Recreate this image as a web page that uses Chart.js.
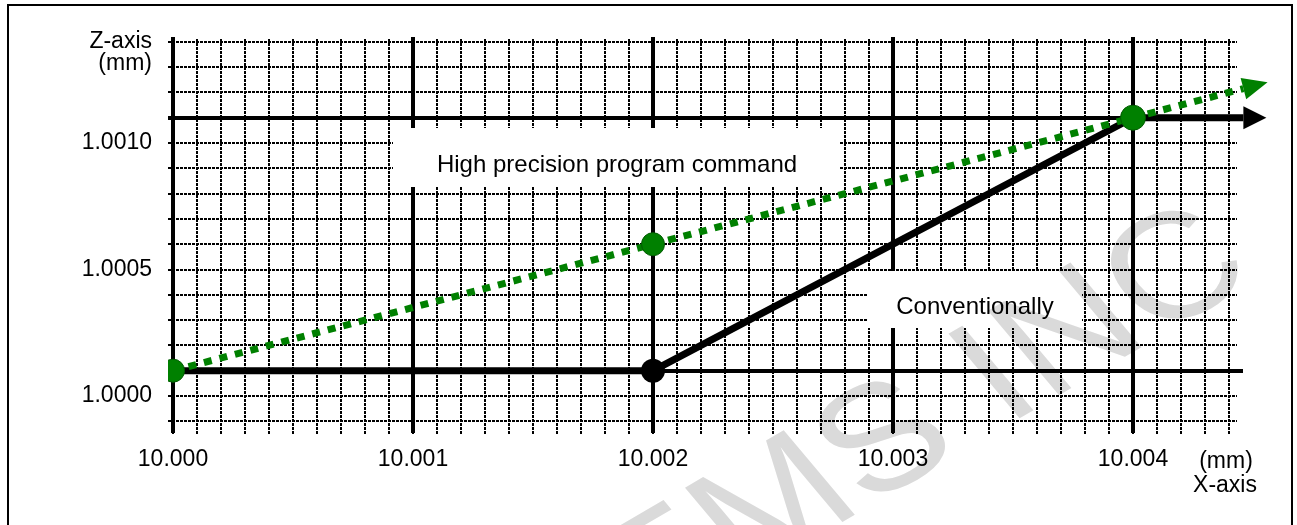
<!DOCTYPE html>
<html><head><meta charset="utf-8">
<script src="https://cdn.jsdelivr.net/npm/chart.js@4.4.1/dist/chart.umd.min.js"></script>
<style>
html,body{margin:0;padding:0;background:#fff;}
#wrap{position:relative;width:1297px;height:525px;overflow:hidden;}
#frame{position:absolute;left:7px;top:4px;width:1282px;height:600px;border:2px solid #000;}
canvas{position:absolute;left:0;top:0;}
</style></head><body>
<div id="wrap"><div id="frame"></div><canvas id="c" width="1297" height="525"></canvas></div>
<script>
// ---- data ----
const xTickValues = [10.000, 10.001, 10.002, 10.003, 10.004];
const zTickValues = [1.0000, 1.0005, 1.0010];
const xGridRange = [10.0000, 10.0044];
const zGridRange = [0.9999, 1.0014];
const gridStep = 0.0001;
const zMajorLines = [1.0001, 1.0011];
const conventionalX = [10.000, 10.002, 10.004, 10.00446];
const conventionalZ = [1.0001, 1.0001, 1.0011, 1.0011];
const highPrecisionX = [10.000, 10.002, 10.004, 10.00446];
const highPrecisionZ = [1.0001, 1.0006, 1.0011, 1.001215];
const labelHigh = 'High precision program command';
const labelConv = 'Conventionally';
const watermarkText = 'EMS INC';

const FONT = '"Liberation Sans", Arial, Helvetica, sans-serif';
const GREEN = '#008000';

const toPts = (xs, zs) => xs.map((v, i) => ({x: v, y: zs[i]}));

const gridPlugin = {
  id: 'gridPaper',
  beforeDatasetsDraw(chart) {
    const {ctx, scales: {x, y}} = chart;
    const px = v => Math.round(x.getPixelForValue(v));
    const py = v => Math.round(y.getPixelForValue(v));
    const left = px(xGridRange[0]) - 5, right = px(xGridRange[1]) + 8;
    const top = py(zGridRange[1]) - 3, bottom = py(zGridRange[0]) + 14;
    const nx = Math.round((xGridRange[1] - xGridRange[0]) / gridStep);
    const nz = Math.round((zGridRange[1] - zGridRange[0]) / gridStep);
    ctx.save();
    ctx.strokeStyle = '#000';
    ctx.lineWidth = 2;
    ctx.setLineDash([3, 1]);
    ctx.beginPath();
    for (let i = 0; i <= nx; i++) {
      const X = px(xGridRange[0] + i * gridStep);
      ctx.moveTo(X, top); ctx.lineTo(X, bottom);
    }
    for (let j = 0; j <= nz; j++) {
      const Y = py(zGridRange[0] + j * gridStep);
      ctx.moveTo(left, Y); ctx.lineTo(right, Y);
    }
    ctx.stroke();
    ctx.setLineDash([]);
    ctx.lineWidth = 4;
    ctx.beginPath();
    xTickValues.forEach(v => { const X = px(v); ctx.moveTo(X, top - 2); ctx.lineTo(X, bottom - 2); });
    zMajorLines.forEach(v => { const Y = py(v); ctx.moveTo(left, Y); ctx.lineTo(right + 6, Y); });
    ctx.stroke();
    // label boxes
    ctx.fillStyle = '#fff';
    ctx.fillRect(393, 128, 447, 59);
    ctx.fillRect(868, 271, 214, 57);
    ctx.fillStyle = '#000';
    ctx.font = '24px ' + FONT;
    ctx.textAlign = 'center';
    ctx.textBaseline = 'alphabetic';
    ctx.fillText(labelHigh, 617, 172);
    ctx.fillText(labelConv, 975, 314);
    ctx.restore();
  },
  afterDraw(chart) {
    const {ctx} = chart;
    ctx.save();
    ctx.fillStyle = '#000';
    ctx.font = '23px ' + FONT;
    ctx.textAlign = 'right';
    ctx.fillText('Z-axis', 152, 48);
    ctx.fillText('(mm)', 152, 70);
    ctx.textAlign = 'center';
    ctx.fillText('(mm)', 1226, 468);
    ctx.fillText('X-axis', 1225, 492);
    ctx.restore();
  }
};

const arrowPlugin = {
  id: 'arrows',
  afterDatasetsDraw(chart) {
    const {ctx} = chart;
    const specs = [{ds: 1, len: 23, half: 11.5, color: '#000'}, {ds: 0, len: 25, half: 11, color: GREEN}];
    ctx.save();
    specs.forEach(s => {
      const pts = chart.getDatasetMeta(s.ds).data;
      const a = pts[pts.length - 2], b = pts[pts.length - 1];
      const dx = b.x - a.x, dy = b.y - a.y, L = Math.hypot(dx, dy);
      const ux = dx / L, uy = dy / L;
      ctx.fillStyle = s.color;
      ctx.beginPath();
      ctx.moveTo(b.x + ux * s.len, b.y + uy * s.len);
      ctx.lineTo(b.x - uy * s.half, b.y + ux * s.half);
      ctx.lineTo(b.x + uy * s.half, b.y - ux * s.half);
      ctx.closePath();
      ctx.fill();
    });
    ctx.restore();
  }
};

const watermarkPlugin = {
  id: 'watermark',
  afterDraw(chart) {
    const {ctx} = chart;
    ctx.save();
    ctx.globalCompositeOperation = 'multiply';
    ctx.fillStyle = '#dadada';
    ctx.translate(1260, 278);
    ctx.scale(1.2, 1);
    ctx.rotate(-35 * Math.PI / 180);
    ctx.font = '150px ' + FONT;
    ctx.textAlign = 'right';
    ctx.textBaseline = 'alphabetic';
    ctx.fillText(watermarkText, 0, 0);
    ctx.restore();
  }
};

const pxPerX = 240000, pxPerZ = 253000;
new Chart(document.getElementById('c'), {
  type: 'scatter',
  data: {
    datasets: [
      {
        label: labelHigh,
        data: toPts(highPrecisionX, highPrecisionZ),
        showLine: true,
        borderColor: GREEN,
        borderWidth: 7,
        borderDash: [8, 8],
        borderCapStyle: 'butt',
        pointRadius: [11.5, 11.5, 12.5, 0],
        pointBackgroundColor: GREEN,
        pointBorderColor: '#005a00',
        pointBorderWidth: 1
      },
      {
        label: labelConv,
        data: toPts(conventionalX, conventionalZ),
        showLine: true,
        borderColor: '#000',
        borderWidth: 7,
        pointRadius: [0, 12, 0, 0],
        pointBackgroundColor: '#000',
        pointBorderColor: '#000',
        pointBorderWidth: 0
      }
    ]
  },
  options: {
    responsive: false,
    animation: false,
    devicePixelRatio: 1,
    layout: {padding: {top: 36, right: 27, left: 0, bottom: 0}},
    plugins: {legend: {display: false}, tooltip: {enabled: false}},
    scales: {
      x: {
        type: 'linear',
        min: 10 - 5 / pxPerX,
        max: 10 + 1097 / pxPerX,
        grid: {display: false, drawTicks: false},
        border: {display: false},
        afterFit: s => { s.height = 85; },
        afterBuildTicks: s => { s.ticks = xTickValues.map(v => ({value: v})); },
        ticks: {
          autoSkip: false, maxRotation: 0, minRotation: 0, padding: 6,
          color: '#000', font: {family: FONT, size: 23},
          callback: v => Number(v).toFixed(3)
        }
      },
      y: {
        type: 'linear',
        min: 1 - 44 / pxPerZ,
        max: 1 + 360 / pxPerZ,
        grid: {display: false, drawTicks: false},
        border: {display: false},
        afterFit: s => { s.width = 168; },
        afterBuildTicks: s => { s.ticks = zTickValues.map(v => ({value: v})); },
        ticks: {
          autoSkip: false, padding: 16,
          color: '#000', font: {family: FONT, size: 23},
          callback: v => Number(v).toFixed(4)
        }
      }
    }
  },
  plugins: [gridPlugin, arrowPlugin, watermarkPlugin]
});
</script>
</body></html>
